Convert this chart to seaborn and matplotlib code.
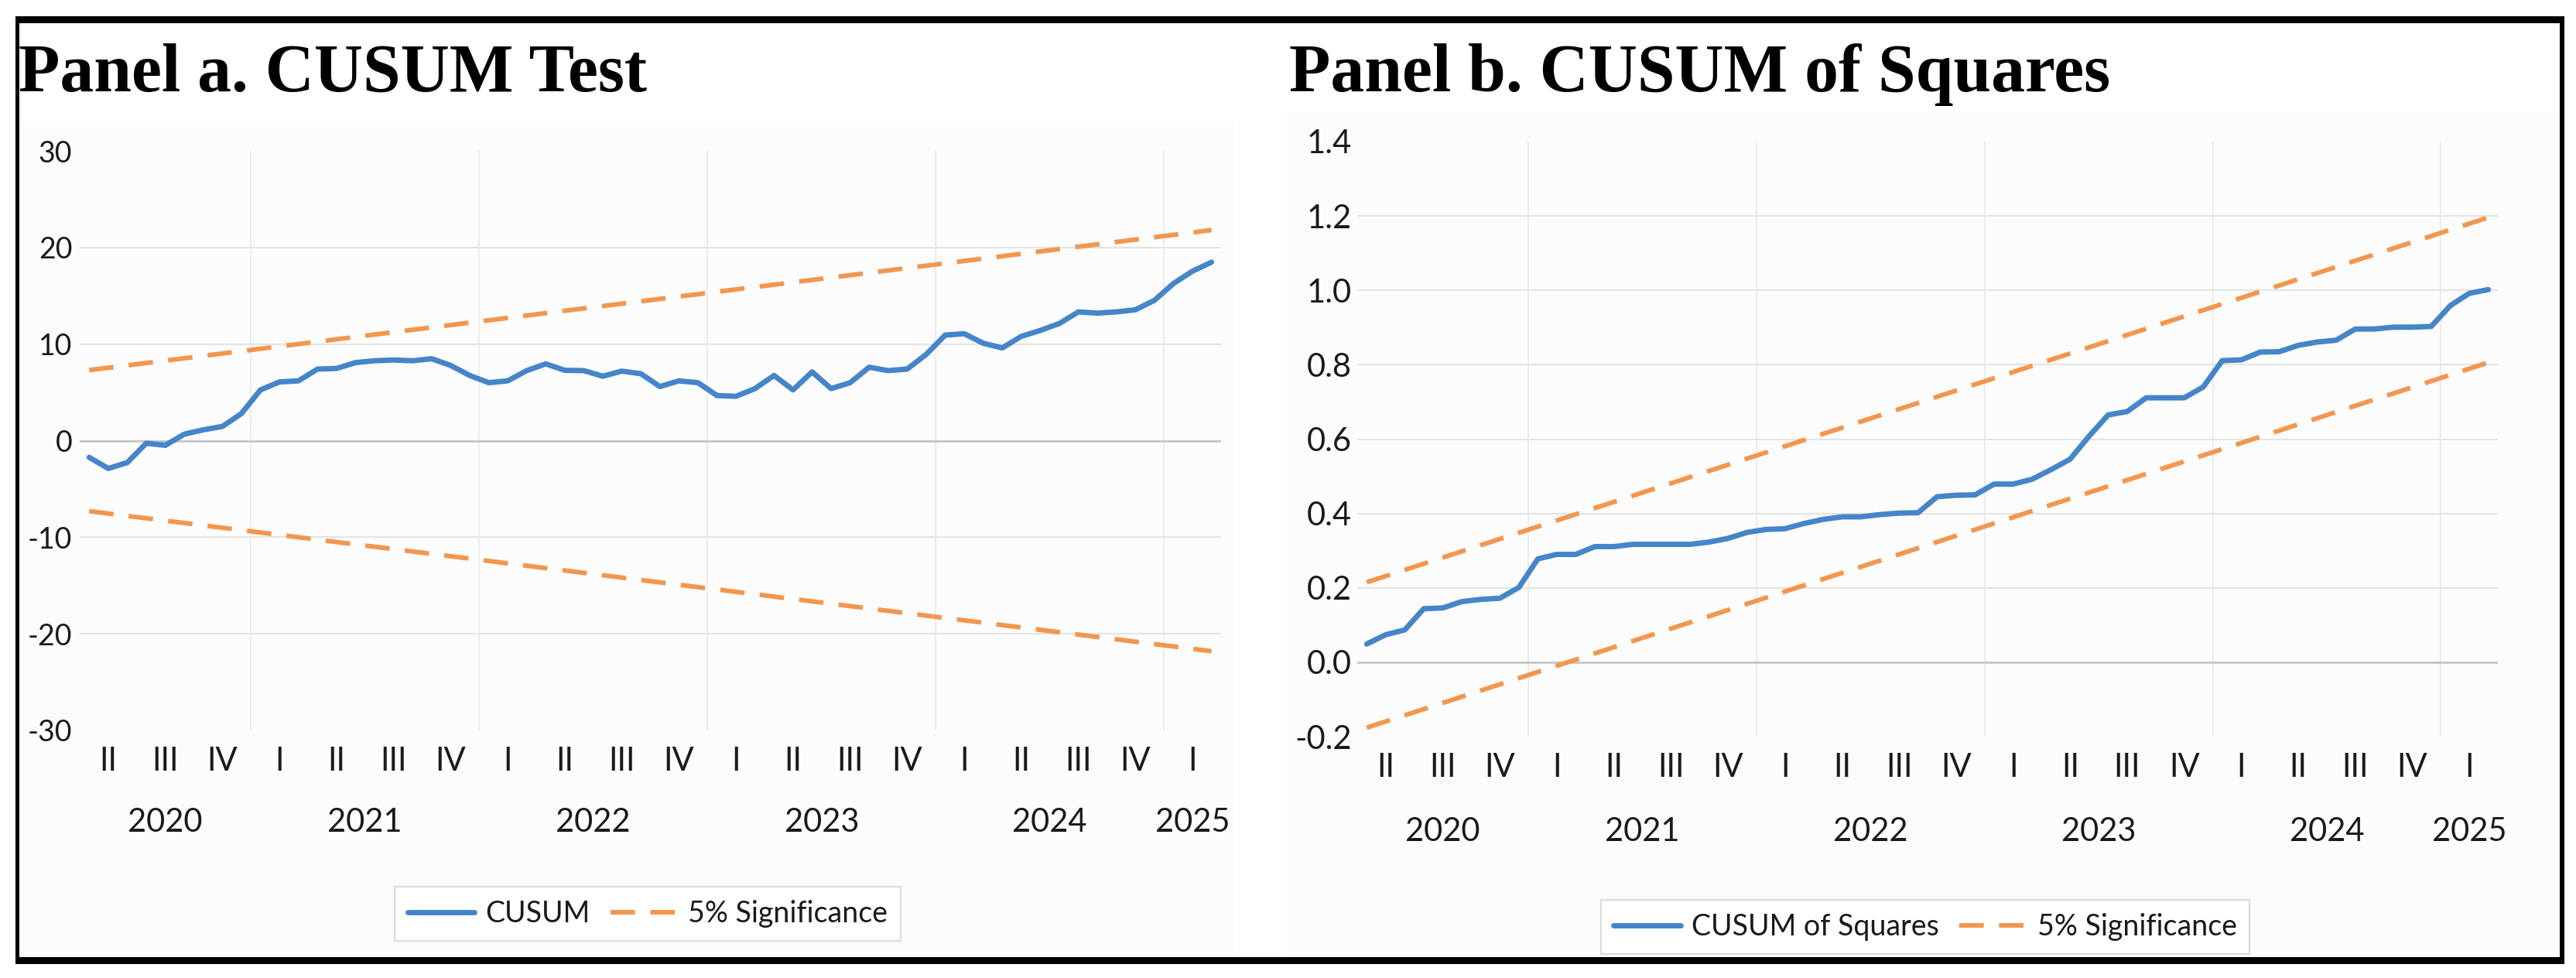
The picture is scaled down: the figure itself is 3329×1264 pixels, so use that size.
import numpy as np
import pandas as pd
import seaborn as sns
import matplotlib.pyplot as plt
from matplotlib.patches import Rectangle
from matplotlib.lines import Line2D
from matplotlib.ticker import FormatStrFormatter

W, H = 3329, 1264

# Monthly recursive residual statistics, April 2020 - March 2025
cusum = [-1.73, -2.88, -2.27, -0.27, -0.48, 0.67, 1.12, 1.47, 2.8, 5.25,
         6.08, 6.19, 7.41, 7.47, 8.08, 8.27, 8.35, 8.27, 8.48, 7.79,
         6.75, 6.0, 6.19, 7.25, 7.95, 7.28, 7.25, 6.67, 7.2, 6.93,
         5.6, 6.19, 6.0, 4.67, 4.59, 5.39, 6.75, 5.25, 7.12, 5.39,
         6.0, 7.6, 7.25, 7.41, 8.93, 10.93, 11.07, 10.08, 9.6, 10.8,
         11.41, 12.13, 13.33, 13.2, 13.33, 13.55, 14.53, 16.27, 17.55, 18.48]

cusum_sq = [0.049, 0.074, 0.087, 0.144, 0.146, 0.163, 0.169, 0.172, 0.201, 0.278,
            0.290, 0.290, 0.311, 0.311, 0.317, 0.317, 0.317, 0.317, 0.323, 0.333,
            0.349, 0.357, 0.359, 0.373, 0.384, 0.391, 0.391, 0.397, 0.401, 0.402,
            0.445, 0.449, 0.450, 0.479, 0.479, 0.492, 0.518, 0.546, 0.608, 0.665,
            0.674, 0.711, 0.711, 0.711, 0.740, 0.811, 0.813, 0.834, 0.835, 0.852,
            0.861, 0.866, 0.896, 0.896, 0.901, 0.901, 0.903, 0.959, 0.992, 1.002]

# 5% significance bounds (straight lines: value at first and last month)
cusum_upper = [7.3, 21.8]
cusum_lower = [-7.3, -21.8]
cusumsq_upper = [0.215, 1.196]
cusumsq_lower = [-0.176, 0.806]

cusum_ticks = [-30, -20, -10, 0, 10, 20, 30]
cusumsq_ticks = [-0.2, 0.0, 0.2, 0.4, 0.6, 0.8, 1.0, 1.2, 1.4]

quarter_labels = ['II', 'III', 'IV'] + ['I', 'II', 'III', 'IV'] * 4 + ['I']
year_labels = ['2020', '2021', '2022', '2023', '2024', '2025']
year_months = [9, 12, 12, 12, 12, 3]

BLUE = '#4585C9'
ORANGE = '#F3964E'
TXT = '#1a1a1a'
DASH = (0, (5.3, 3.3))

sns.set_theme(style='white')
plt.rcParams['font.family'] = ['Lato', 'DejaVu Sans']
plt.rcParams['axes.unicode_minus'] = False


def box(l, t, r, b):
    return [l / W, 1 - b / H, (r - l) / W, (b - t) / H]


fig = plt.figure(figsize=(W / 100, H / 100), dpi=100)
fig.patch.set_facecolor('white')

# faint chart-area fills
for l, t, r, b in [(24, 159, 1595, 1237), (1663, 144, 3307, 1237)]:
    fig.add_artist(Rectangle((l / W, 1 - b / H), (r - l) / W, (b - t) / H,
                             transform=fig.transFigure, facecolor='#fcfcfc',
                             edgecolor='none', zorder=-5))

ends = np.cumsum(year_months)
starts = ends - np.array(year_months)
year_centers = starts + (np.array(year_months) - 1) / 2
year_bounds = ends[:-1] - 0.5
quarter_pos = np.arange(len(quarter_labels)) * 3 + 1


def draw_panel(ax, y, upper, lower, ylim, yticks, fmt, ysize, ypad, year_off,
               name, legend_center):
    months = np.arange(len(y))
    df = pd.DataFrame({'month': months, 'value': y})
    end_pts = [months[0], months[-1]]

    for b in year_bounds:
        ax.axvline(b, color='#ebebeb', lw=1.3, zorder=0)
    ax.axhline(0, color='#c6c6c6', lw=2, zorder=1)

    sns.lineplot(data=df, x='month', y='value', ax=ax, color=BLUE, lw=5, zorder=3)
    for band in (upper, lower):
        sns.lineplot(x=end_pts, y=band, ax=ax, color=ORANGE, lw=4.3,
                     linestyle=DASH, zorder=2)

    ax.set_xlim(-0.5, len(y) - 0.5)
    ax.set_ylim(*ylim)
    ax.set_yticks(yticks)
    ax.yaxis.set_major_formatter(FormatStrFormatter(fmt))
    ax.set_xticks(quarter_pos, quarter_labels)
    ax.yaxis.grid(True, color='#e4e4e4', lw=1.5)
    ax.xaxis.grid(False)
    gls = ax.yaxis.get_gridlines()
    gls[0].set_visible(False)
    gls[-1].set_visible(False)
    ax.set_axisbelow(True)
    ax.set_xlabel('')
    ax.set_ylabel('')
    ax.set_facecolor('none')
    for s in ax.spines.values():
        s.set_visible(False)
    ax.tick_params(axis='y', length=0, labelsize=ysize, pad=ypad, labelcolor=TXT)
    ax.tick_params(axis='x', length=0, labelsize=30, pad=15, labelcolor=TXT)

    for lab, c in zip(year_labels, year_centers):
        ax.annotate(lab, xy=(c, 0), xycoords=('data', 'axes fraction'),
                    xytext=(0, -year_off), textcoords='offset points',
                    ha='center', va='top', fontsize=30, color=TXT)

    handles = [Line2D([], [], color=BLUE, lw=5),
               Line2D([], [], color=ORANGE, lw=4.3, linestyle=DASH)]
    leg = ax.legend(handles, [name, '5% Significance'], loc='center',
                    bbox_to_anchor=(legend_center[0] / W, 1 - legend_center[1] / H),
                    bbox_transform=fig.transFigure, ncol=2, fontsize=27,
                    frameon=True, fancybox=False, framealpha=1,
                    facecolor='white', edgecolor='#dadada',
                    handlelength=2.3, handletextpad=0.37, columnspacing=0.72,
                    borderpad=0.45, borderaxespad=0)
    leg.get_frame().set_linewidth(1.5)
    for t in leg.get_texts():
        t.set_color(TXT)


ax_a = fig.add_axes(box(103, 195, 1578, 944))
ax_b = fig.add_axes(box(1754, 183, 3228, 952))

draw_panel(ax_a, cusum, cusum_upper, cusum_lower, (-30, 30),
           cusum_ticks, '%d', 27, 7, 72, 'CUSUM', (837, 1181))
draw_panel(ax_b, cusum_sq, cusumsq_upper, cusumsq_lower, (-0.2, 1.4),
           cusumsq_ticks, '%.1f', 30, 5, 75, 'CUSUM of Squares',
           (2488, 1198))

# panel titles
fig.text(24 / W, 1 - 118 / H, 'Panel a. CUSUM Test', fontsize=63,
         fontweight='bold', family='Liberation Serif', va='baseline', color='black')
fig.text(1666 / W, 1 - 118 / H, 'Panel b. CUSUM of Squares', fontsize=63,
         fontweight='bold', family='Liberation Serif', va='baseline', color='black')

# black outer frame
for l, t, r, b in [(20, 21, 3314, 30), (20, 21, 25, 1246),
                   (3308, 21, 3314, 1246), (20, 1237, 3314, 1246)]:
    fig.add_artist(Rectangle((l / W, 1 - b / H), (r - l) / W, (b - t) / H,
                             transform=fig.transFigure, facecolor='black',
                             edgecolor='none', zorder=10))

fig.savefig('out.png', dpi=100, facecolor='white')
